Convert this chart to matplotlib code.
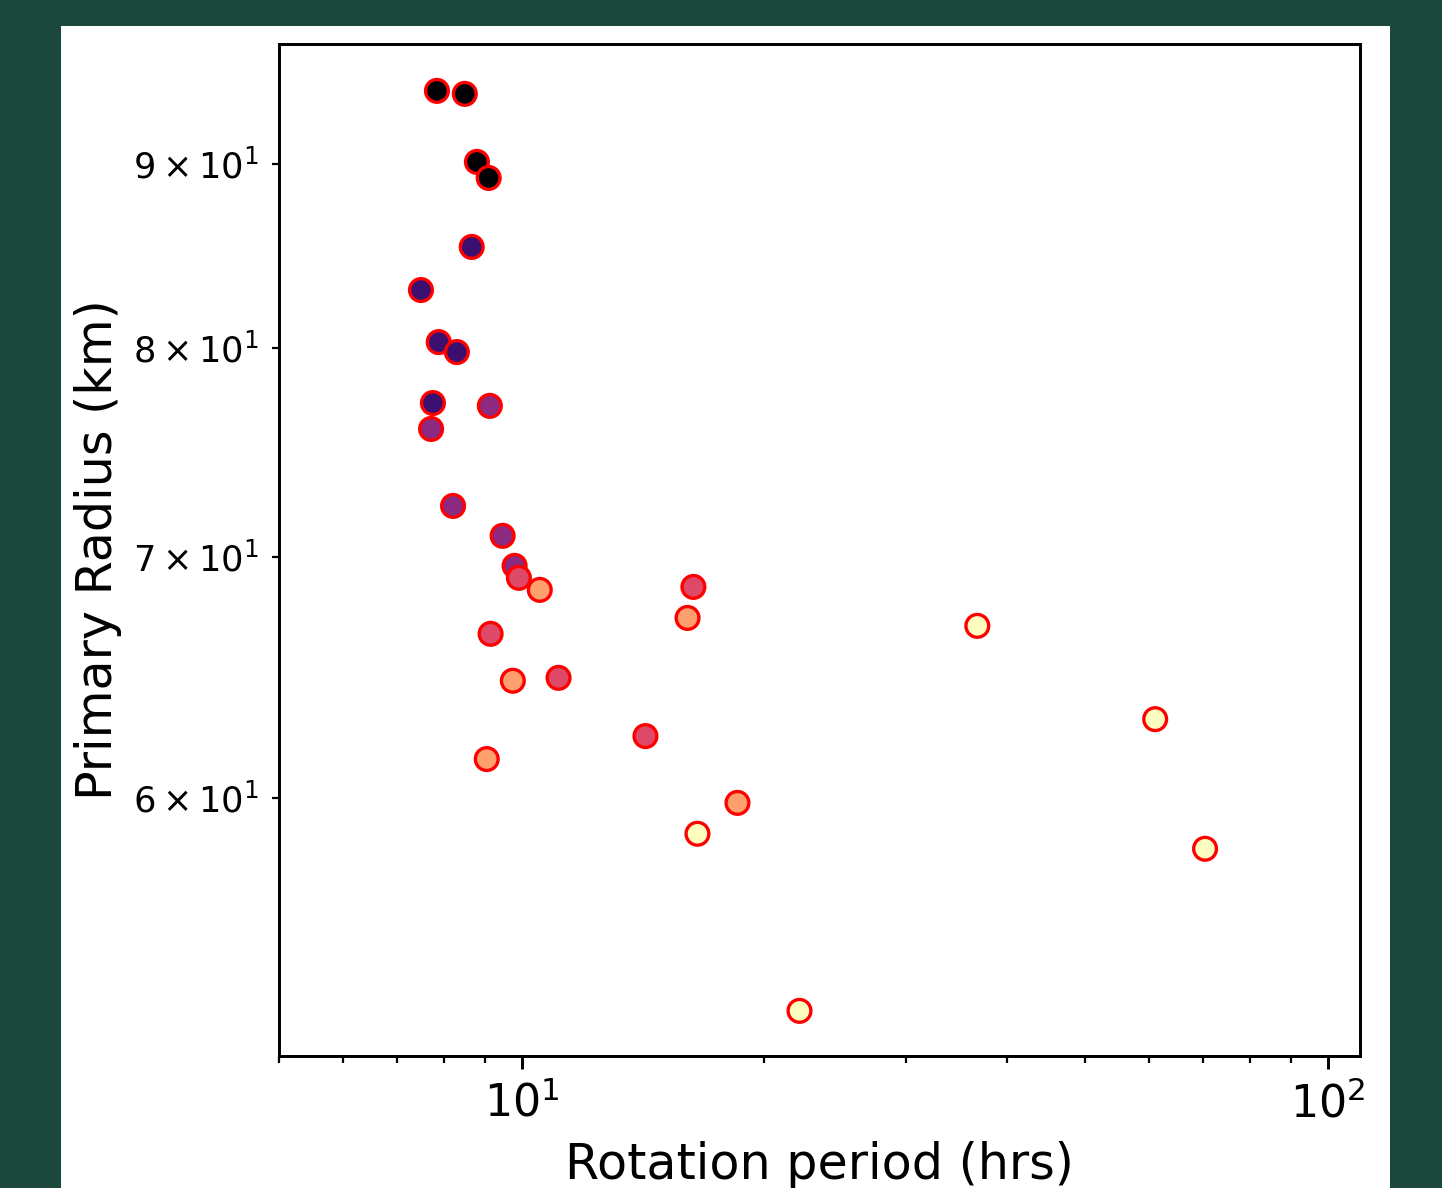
import numpy as np
import matplotlib.pyplot as plt
from matplotlib.patches import Rectangle

dpi = 266
bg = '#1b473d'

# rotation period (hrs), primary radius (km), colour class (0..5 on magma)
period = [7.85, 8.50, 8.80, 9.10, 8.67, 7.50, 7.89, 8.31, 7.76, 9.13,
          7.72, 8.22, 9.47, 9.80, 9.92, 10.53, 16.33, 16.06, 9.15, 36.74,
          9.75, 11.11, 61.06, 14.24, 9.05, 18.52, 16.52, 70.41, 22.11]
radius = [94.31, 94.13, 90.12, 89.20, 85.35, 83.03, 80.31, 79.80, 77.24, 77.10,
          75.97, 72.32, 70.95, 69.60, 69.07, 68.54, 68.67, 67.32, 66.64, 66.98,
          64.67, 64.79, 63.10, 62.42, 61.51, 59.81, 58.64, 58.08, 52.36]
level = [0, 0, 0, 0, 1, 1, 1, 1, 1, 2,
         2, 2, 2, 2, 3, 4, 3, 4, 3, 5,
         4, 3, 5, 3, 4, 4, 5, 5, 5]

fig = plt.figure(figsize=(1442 / dpi, 1188 / dpi), dpi=dpi, facecolor=bg)
fig.patches.append(Rectangle((61 / 1442, 0), (1390 - 61) / 1442, (1188 - 26) / 1188,
                             transform=fig.transFigure, facecolor='white',
                             edgecolor='none', zorder=-10))

ax = fig.add_axes([279 / 1442, 1 - 1056 / 1188, (1360 - 279) / 1442, (1056 - 44) / 1188])
ax.scatter(period, radius, c=level, cmap='magma', vmin=0, vmax=5,
           s=38, edgecolors='red', linewidths=0.9)
ax.set_xscale('log')
ax.set_yscale('log')
ax.set_xlim(5.0, 109.6)
ax.set_ylim(50.87, 97.18)
ax.set_xlabel("Rotation period (hrs)", fontsize=13.3)
ax.set_ylabel("Primary Radius (km)", fontsize=13.3, labelpad=3)
ax.tick_params(axis='x', which='major', labelsize=12)
ax.tick_params(axis='y', which='minor', labelsize=9.5)

fig.savefig('out.png', dpi=dpi, facecolor=bg)
